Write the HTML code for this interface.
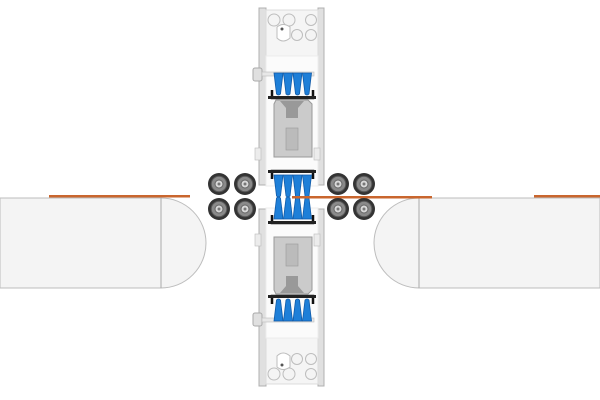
<!DOCTYPE html>
<html><head><style>html,body{margin:0;padding:0;background:#fff}svg{display:block}</style></head>
<body>
<svg width="600" height="400" viewBox="0 0 600 400" xmlns="http://www.w3.org/2000/svg">
<defs>
<g id="wheel">
<circle r="11" fill="#333"/>
<circle r="7.8" fill="#8a8a8a" stroke="#555" stroke-width="1"/>
<circle r="4" fill="#d8d8d8" stroke="#666" stroke-width="1"/>
<circle r="1.5" fill="#777"/>
</g>
<g id="brush">
<path d="M0,0 L9,0 L6.5,21 Q4.5,23 2.5,21 Z" fill="#1e7fd8" stroke="#0f5aa8" stroke-width="0.8"/>
</g>
<g id="assy">
<rect x="259" y="8" width="7" height="177" fill="#e0e0e0" stroke="#b0b0b0"/>
<rect x="318" y="8" width="6" height="177" fill="#e0e0e0" stroke="#b0b0b0"/>
<rect x="266" y="10" width="52" height="46" fill="#f5f5f5" stroke="#dcdcdc"/>
<rect x="266" y="56" width="52" height="130" fill="#fbfbfb" stroke="#ececec"/>
<g fill="#f4f4f4" stroke="#bdbdbd" stroke-width="1">
<circle cx="274" cy="20" r="6"/><circle cx="289" cy="20" r="6"/><circle cx="311" cy="20" r="5.5"/>
<circle cx="297" cy="35" r="5.5"/><circle cx="311" cy="35" r="5.5"/>
<path d="M277,27 Q283,22 290,27 L290,38 Q283,44 277,38 Z" fill="#fff"/>
</g>
<circle cx="282" cy="29" r="1.5" fill="#555"/>
<rect x="253" y="68" width="9" height="13" rx="2" fill="#e0e0e0" stroke="#aaa"/>
<rect x="262" y="72" width="52" height="4" fill="#e8e8e8" stroke="#bbb" stroke-width="0.6"/>
<use href="#brush" x="274" y="73"/><use href="#brush" x="283.5" y="73"/>
<use href="#brush" x="293" y="73"/><use href="#brush" x="302.5" y="73"/>
<path d="M272,90 L272,98 L313,98 L313,90" fill="none" stroke="#111" stroke-width="2.5"/>
<rect x="268" y="96" width="48" height="3" fill="#222"/>
<path d="M276,100 L308,100 L312,104 L312,157 L274,157 L274,104 Z" fill="#cbcbcb" stroke="#999"/>
<path d="M280,101 L304,101 L298,108 L296,114 L288,114 L286,108 Z" fill="#999"/>
<rect x="286" y="108" width="12" height="10" fill="#999"/>
<rect x="286" y="128" width="12" height="22" fill="#bbb" stroke="#999" stroke-width="0.6"/>
<rect x="255" y="148" width="6" height="12" fill="#ececec" stroke="#bbb" stroke-width="0.6"/>
<rect x="314" y="148" width="6" height="12" fill="#ececec" stroke="#bbb" stroke-width="0.6"/>
<path d="M272,179 L272,171 L313,171 L313,179" fill="none" stroke="#111" stroke-width="2.5"/>
<rect x="268" y="170" width="48" height="3" fill="#222"/>
<g transform="translate(0,175)">
<use href="#brush" x="274" y="0"/><use href="#brush" x="283.5" y="0"/>
<use href="#brush" x="293" y="0"/><use href="#brush" x="302.5" y="0"/>
</g>
</g>
</defs>
<path d="M0,198 L161,198 A45,45 0 0 1 161,288 L0,288 Z" fill="#f4f4f4" stroke="#bdbdbd"/>
<line x1="161" y1="198" x2="161" y2="288" stroke="#aaa"/>
<rect x="49" y="195" width="141" height="2.5" fill="#c9662e"/>
<path d="M600,198 L419,198 A45,45 0 0 0 419,288 L600,288 Z" fill="#f4f4f4" stroke="#bdbdbd"/>
<line x1="419" y1="198" x2="419" y2="288" stroke="#aaa"/>
<use href="#assy"/>
<use href="#assy" transform="translate(0,394) scale(1,-1)"/>
<rect x="292" y="196" width="140" height="2.5" fill="#c9662e"/>
<rect x="534" y="195" width="66" height="2.5" fill="#c9662e"/>
<use href="#wheel" x="219" y="184"/><use href="#wheel" x="245" y="184"/>
<use href="#wheel" x="219" y="209"/><use href="#wheel" x="245" y="209"/>
<use href="#wheel" x="338" y="184"/><use href="#wheel" x="364" y="184"/>
<use href="#wheel" x="338" y="209"/><use href="#wheel" x="364" y="209"/>
</svg>
</body></html>
